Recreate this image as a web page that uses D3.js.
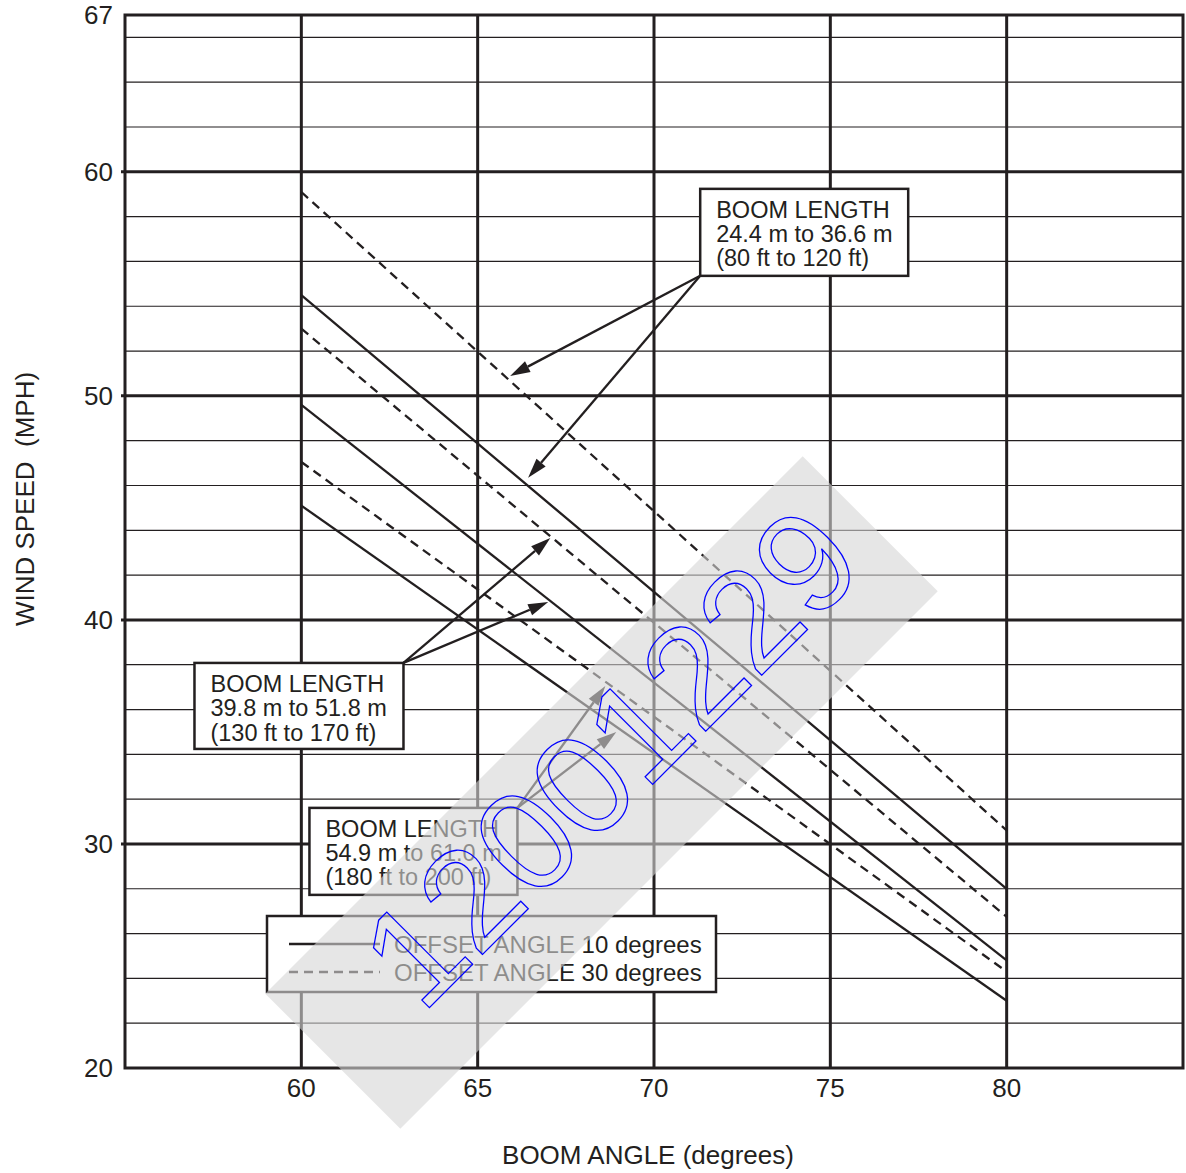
<!DOCTYPE html>
<html>
<head>
<meta charset="utf-8">
<script src="https://cdn.jsdelivr.net/npm/d3@7"></script>
<style>
  body { margin: 0; background: #fff; }
  text { font-family: "Liberation Sans", Arial, sans-serif; fill: #231f20; }
</style>
</head>
<body>
<svg id="chart"></svg>
<script>
// boom angle (degrees) where each curve is read
var boomAngle = [60, 80];

// wind speed (mph), offset angle 10 degrees -> solid lines
var solid_24to36 = [54.5, 28.0];
var solid_39to51 = [49.6, 24.8];
var solid_54to61 = [45.1, 23.0];

// wind speed (mph), offset angle 30 degrees -> dashed lines
var dash_24to36 = [59.1, 30.6];
var dash_39to51 = [53.0, 26.75];
var dash_54to61 = [47.05, 24.3];

var xTicks = [60, 65, 70, 75, 80];
var yTicks = [20, 30, 40, 50, 60, 67];
var yMinor = [22, 24, 26, 28, 32, 34, 36, 38, 42, 44, 46, 48, 52, 54, 56, 58, 62, 64, 66];

var boomLabels = [
  ["BOOM LENGTH", "24.4 m to 36.6 m", "(80 ft to 120 ft)"],
  ["BOOM LENGTH", "39.8 m to 51.8 m", "(130 ft to 170 ft)"],
  ["BOOM LENGTH", "54.9 m to 61.0 m", "(180 ft to 200 ft)"]
];
// where the arrows of each box point: [angle, mph]
var arrowTargets = [
  [[65.92, 50.89], [66.43, 46.34]],
  [[67.06, 43.66], [67.0, 40.8]],
  [[68.62, 37.05], [68.93, 35.0]]
];
var legendLabels = ["OFFSET ANGLE 10 degrees", "OFFSET ANGLE 30 degrees"];
var xTitle = "BOOM ANGLE (degrees)";
var yTitle = "WIND SPEED  (MPH)";
var stamp = "12001229";

var W = 1186, H = 1173;
var ink = "#231f20";

var svg = d3.select("#chart").attr("width", W).attr("height", H);

var x = d3.scaleLinear().domain([55, 85]).range([125, 1183]);
var y = d3.scaleLinear().domain([20, 67]).range([1068, 15]);

// grid
var grid = svg.append("g");
grid.selectAll(".minor").data(yMinor).enter().append("line")
  .attr("x1", x(55)).attr("x2", x(85))
  .attr("y1", d => y(d)).attr("y2", d => y(d))
  .attr("stroke", ink).attr("stroke-width", 1.2);
grid.selectAll(".major").data([30, 40, 50, 60]).enter().append("line")
  .attr("x1", x(55) - 4).attr("x2", x(85))
  .attr("y1", d => y(d)).attr("y2", d => y(d))
  .attr("stroke", ink).attr("stroke-width", 3);
grid.selectAll(".vert").data(xTicks).enter().append("line")
  .attr("x1", d => x(d)).attr("x2", d => x(d))
  .attr("y1", y(67)).attr("y2", y(20))
  .attr("stroke", ink).attr("stroke-width", 3);
grid.append("rect")
  .attr("x", x(55)).attr("y", y(67))
  .attr("width", x(85) - x(55)).attr("height", y(20) - y(67))
  .attr("fill", "none").attr("stroke", ink).attr("stroke-width", 3);

// tick labels
svg.append("g").selectAll("text").data(yTicks).enter().append("text")
  .attr("x", 113).attr("y", d => y(d)).attr("dy", "0.35em")
  .attr("text-anchor", "end").attr("font-size", 26)
  .text(d => d);
svg.append("g").selectAll("text").data(xTicks).enter().append("text")
  .attr("x", d => x(d)).attr("y", y(20) + 29)
  .attr("text-anchor", "middle").attr("font-size", 26)
  .text(d => d);

svg.append("text").attr("x", 648).attr("y", 1164)
  .attr("text-anchor", "middle").attr("font-size", 26).text(xTitle);
svg.append("text")
  .attr("transform", "translate(34,499) rotate(-90)")
  .attr("text-anchor", "middle").attr("font-size", 26)
  .style("white-space", "pre").text(yTitle);

// curves
var series = [
  { v: solid_24to36, dash: null },
  { v: solid_39to51, dash: null },
  { v: solid_54to61, dash: null },
  { v: dash_24to36, dash: "9,6" },
  { v: dash_39to51, dash: "9,6" },
  { v: dash_54to61, dash: "9,6" }
];
var line = d3.line().x(d => x(d[0])).y(d => y(d[1]));
svg.append("g").selectAll("path").data(series).enter().append("path")
  .attr("d", s => line(boomAngle.map((a, i) => [a, s.v[i]])))
  .attr("fill", "none").attr("stroke", ink).attr("stroke-width", 2.3)
  .attr("stroke-dasharray", s => s.dash);

// label boxes: top-left corner in data units, arrow start corner
var boxes = [
  { x: 71.31, y: 59.24, w: 208, h: 87, from: "bl" },
  { x: 56.97, y: 38.08, w: 209, h: 86, from: "tr" },
  { x: 60.23, y: 31.61, w: 208, h: 87, from: "tr" }
];

function arrow(g, x0, y0, x1, y1) {
  var ang = Math.atan2(y1 - y0, x1 - x0), L = 20, hw = 6;
  var bx = x1 - L * Math.cos(ang), by = y1 - L * Math.sin(ang);
  g.append("line").attr("x1", x0).attr("y1", y0).attr("x2", bx).attr("y2", by)
    .attr("stroke", ink).attr("stroke-width", 2.3);
  g.append("path")
    .attr("d", "M" + x1 + "," + y1 +
      "L" + (bx + hw * Math.sin(ang)) + "," + (by - hw * Math.cos(ang)) +
      "L" + (bx - hw * Math.sin(ang)) + "," + (by + hw * Math.cos(ang)) + "Z")
    .attr("fill", ink);
}

boxes.forEach(function(b, i) {
  var g = svg.append("g");
  var bx = x(b.x), by = y(b.y);
  g.append("rect").attr("x", bx).attr("y", by).attr("width", b.w).attr("height", b.h)
    .attr("fill", "#fff").attr("stroke", ink).attr("stroke-width", 2.5);
  g.selectAll("text").data(boomLabels[i]).enter().append("text")
    .attr("x", bx + 16).attr("y", (d, j) => by + 29 + j * 24.3)
    .attr("font-size", 23.5).text(d => d);
  var ox = b.from === "bl" ? bx : bx + b.w;
  var oy = b.from === "bl" ? by + b.h : by;
  arrowTargets[i].forEach(function(t) {
    arrow(g, ox, oy, x(t[0]), y(t[1]));
  });
});

// legend
var lg = svg.append("g");
lg.append("rect").attr("x", 267).attr("y", 916).attr("width", 449).attr("height", 76)
  .attr("fill", "#fff").attr("stroke", ink).attr("stroke-width", 2.5);
legendLabels.forEach(function(t, i) {
  var ly = 944 + i * 28;
  lg.append("line").attr("x1", 289).attr("x2", 380).attr("y1", ly).attr("y2", ly)
    .attr("stroke", ink).attr("stroke-width", 2.3)
    .attr("stroke-dasharray", i ? "9,6" : null);
  lg.append("text").attr("x", 394).attr("y", ly + 9).attr("font-size", 24).text(t);
});

// stamp over the chart
svg.append("rect")
  .attr("x", -380).attr("y", -95.5).attr("width", 760).attr("height", 191)
  .attr("transform", "translate(601.5,792.5) rotate(-45)")
  .attr("fill", "rgb(213,213,213)").attr("fill-opacity", 0.6);
svg.append("text")
  .attr("transform", "translate(645,792) rotate(-45)")
  .attr("text-anchor", "middle").attr("font-size", 142)
  .style("fill", "none").attr("stroke", "#0000ff").attr("stroke-width", 1.3)
  .text(stamp);
</script>
</body>
</html>
